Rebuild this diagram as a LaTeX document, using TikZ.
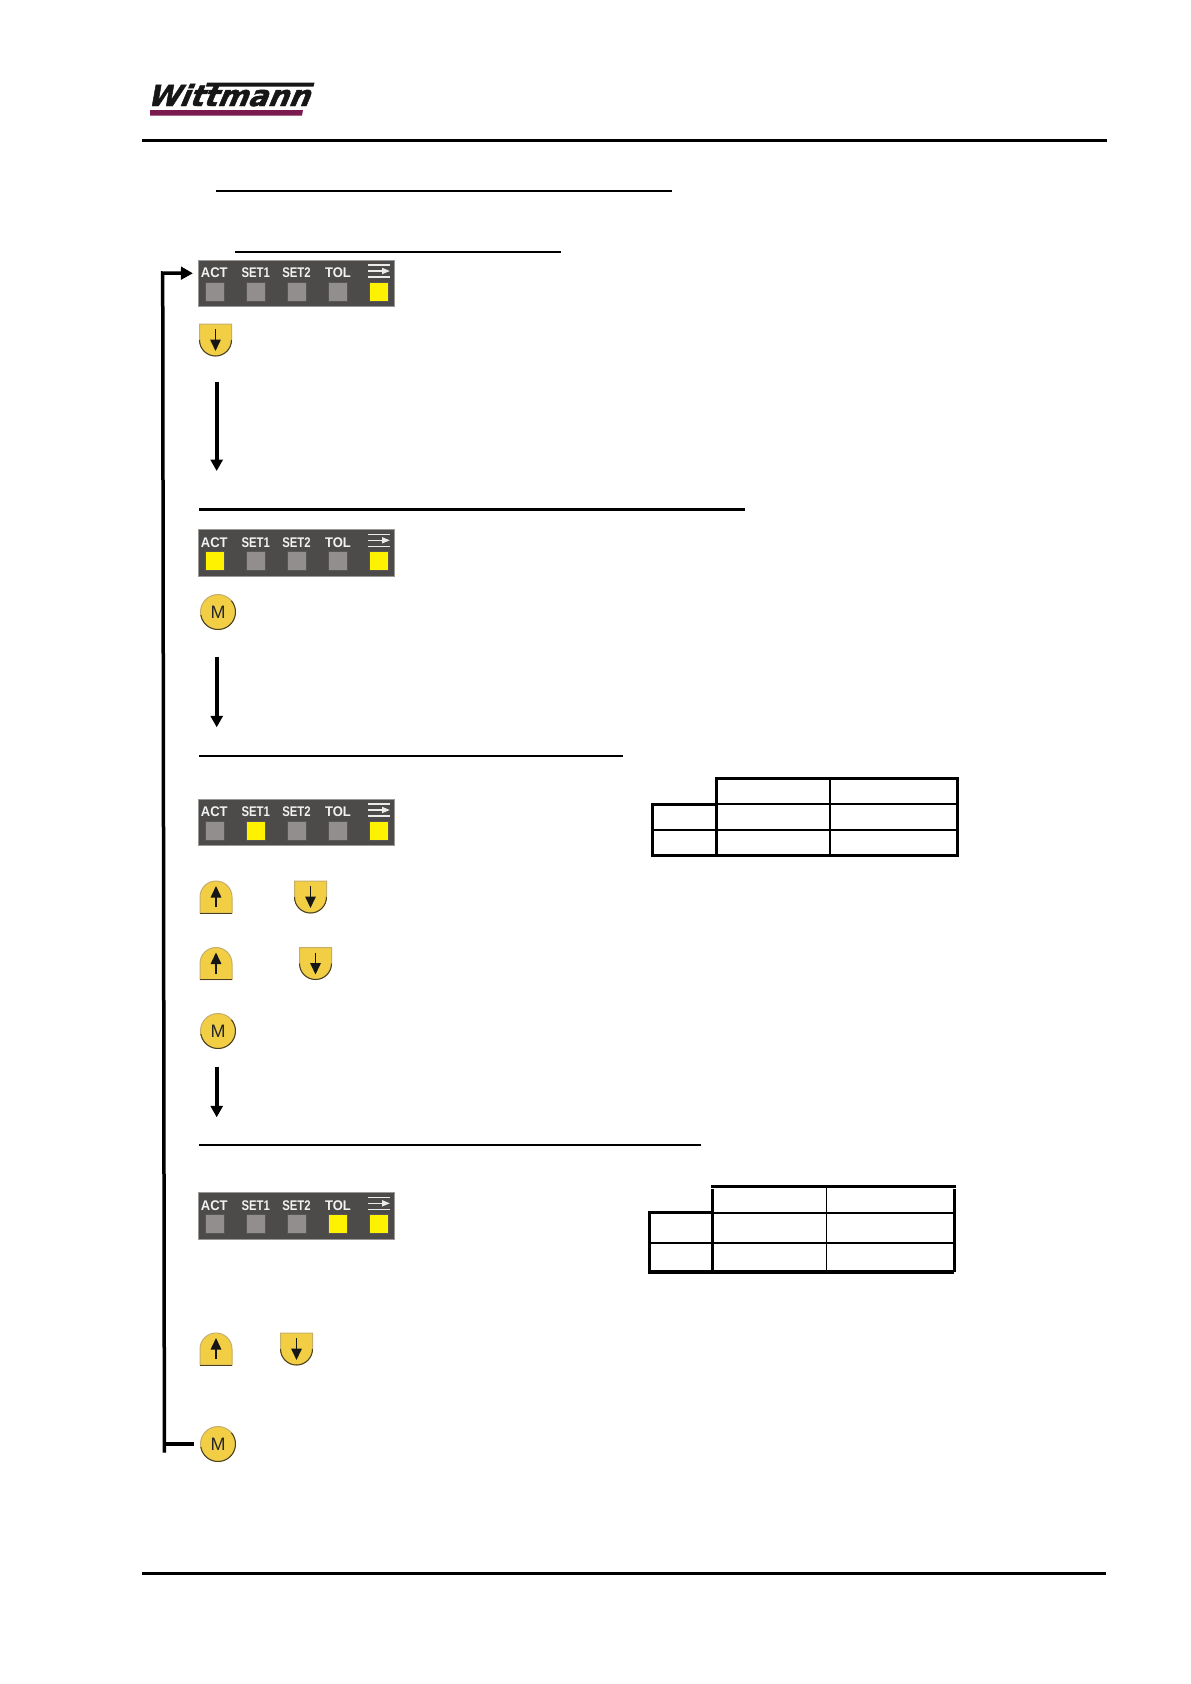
\documentclass[tikz,border=0pt]{standalone}
\usepackage{fontspec}
\setmainfont{Liberation Sans}
\newfontfamily\logofont[FakeBold=1.6]{DejaVu Sans Bold}
\usetikzlibrary{arrows.meta,calc}
\definecolor{panelgrey}{HTML}{4D4B4A}
\definecolor{paneledge}{HTML}{9A9897}
\definecolor{ledoff}{HTML}{918E8D}
\definecolor{ledon}{HTML}{FFF200}
\definecolor{btnyellow}{HTML}{F2CE45}
\definecolor{btnlight}{HTML}{C4AE6A}
\definecolor{btndark}{HTML}{4A4020}
\definecolor{logopurple}{HTML}{7A1A4E}
\definecolor{logoblack}{HTML}{161616}
\tikzset{
  rulethin/.style={line width=2pt,black},
  rulethick/.style={line width=3.2pt,black},
  panelbox/.style={fill=panelgrey,draw=paneledge,line width=0.7pt,inner sep=0pt,minimum width=196pt,minimum height=46.5pt},
  ledbox/.style={inner sep=0pt,minimum width=19pt,minimum height=19pt,draw=ledoff!60!black,line width=0.3pt},
  paneltext/.style={inner sep=0pt,text=white!95!black,font=\bfseries\fontsize{14}{14}\selectfont},
  flowarrow/.style={line width=4pt,black,-{Triangle[length=11.5pt,width=12pt]}},
  loopline/.style={line width=3.5pt,black},
  btnshape/.style={fill=btnyellow,draw=btnlight,line width=1pt},
  btnedge/.style={draw=btndark,line width=1pt},
  btnanchor/.style={inner sep=0pt,minimum width=32pt,minimum height=32pt},
  mbtn/.style={circle,fill=btnyellow,draw=btnlight,line width=1pt,inner sep=0pt,outer sep=0pt,minimum size=35pt,text=black!85,font=\fontsize{18}{18}\selectfont},
  innerarrow/.style={line width=1.6pt,logoblack,-{Triangle[length=11.5pt,width=10.5pt]}},
  tableouter/.style={line width=3.2pt,black},
  tableinner/.style={line width=2pt,black},
  panelmark/.style={white!92!black,line width=1.6pt},
}
\newcommand{\narrowset}[1]{\scalebox{0.81}[1]{#1}}
\newcommand{\narrowcap}[1]{\scalebox{0.93}[1]{#1}}
% name, top y, colours of the five lamps
\newcommand{\statuspanel}[7]{%
  \node[panelbox] (#1) at (296.8,#2+23.3) {};
  \node[paneltext] (#1-act) at (214.3,#2+13) {\narrowcap{ACT}};
  \node[paneltext] (#1-set1) at (255.7,#2+13) {\narrowset{SET1}};
  \node[paneltext] (#1-set2) at (296.5,#2+13) {\narrowset{SET2}};
  \node[paneltext] (#1-tol) at (338,#2+13) {\narrowcap{TOL}};
  \node[ledbox,fill=#3] (#1-la) at (214.3,#2+31.7) {};
  \node[ledbox,fill=#4] (#1-lb) at (255.7,#2+31.7) {};
  \node[ledbox,fill=#5] (#1-lc) at (296.5,#2+31.7) {};
  \node[ledbox,fill=#6] (#1-ld) at (338,#2+31.7) {};
  \node[ledbox,fill=#7] (#1-le) at (379,#2+31.7) {};
  \draw[panelmark] (368,#2+5) -- (390,#2+5);
  \draw[panelmark] (368,#2+17) -- (390,#2+17);
  \draw[panelmark,-{Triangle[length=8pt,width=6pt]}] (368,#2+11) -- (390,#2+11);
}
% name, left x, top y
\newcommand{\downbtn}[3]{%
  \node[btnanchor] (#1) at (#2+16,#3+16) {};
  \draw[btnshape] (#2,#3) -- (#2+32,#3) -- (#2+32,#3+16) arc[start angle=0,end angle=-180,radius=16pt] -- cycle;
  \draw[btnedge] (#2+32,#3+16) arc[start angle=0,end angle=-180,radius=16pt];
  \draw[innerarrow] (#2+16,#3+5) -- (#2+16,#3+27);
}
\newcommand{\upbtn}[3]{%
  \node[btnanchor] (#1) at (#2+16,#3+16) {};
  \draw[btnshape] (#2,#3+32) -- (#2,#3+16) arc[start angle=180,end angle=0,radius=16pt] -- (#2+32,#3+32) -- cycle;
  \draw[btnedge] (#2+32,#3+32) -- (#2,#3+32);
  \draw[innerarrow] (#2+16,#3+26) -- (#2+16,#3+5);
}
\newcommand{\modebtn}[3]{%
  \node[mbtn] (#1) at (#2,#3) {M};
  \draw[btnedge] (#1.40) arc[start angle=40,end angle=-170,radius=17.5pt];
}
\begin{document}
\begin{tikzpicture}[x=1pt,y=-1pt]
\path[use as bounding box,fill=white] (0,0) rectangle (1191,1684);

% logo
\fill[logopurple] (150,110) -- (303,110) -- (302,115.5) -- (150,115.5) -- cycle;
\fill[logoblack] (207,82.5) -- (314.5,82.5) -- (313.5,86.5) -- (206,86.5) -- cycle;
\node[inner sep=0pt,anchor=base west,text=logoblack,xslant=0.42,xscale=1.01,transform shape,font=\logofont\fontsize{29}{29}\selectfont] (logo) at (146,106) {Wittmann};

% header and footer rules
\coordinate (hl) at (142,140.5); \coordinate (hr) at (1107,140.5);
\draw[rulethick] (hl) -- (hr);
\coordinate (fl) at (142,1573.5); \coordinate (fr) at (1106,1573.5);
\draw[rulethick] (fl) -- (fr);

% underlines
\coordinate (u1a) at (216,191); \coordinate (u1b) at (672,191);
\draw[rulethin] (u1a) -- (u1b);
\coordinate (u2a) at (235,252); \coordinate (u2b) at (561,252);
\draw[rulethin] (u2a) -- (u2b);
\coordinate (u3a) at (199,509.5); \coordinate (u3b) at (745,509.5);
\draw[rulethick] (u3a) -- (u3b);
\coordinate (u4a) at (199,755.5); \coordinate (u4b) at (623,755.5);
\draw[rulethin] (u4a) -- (u4b);
\coordinate (u5a) at (199,1145); \coordinate (u5b) at (701,1145);
\draw[rulethin] (u5a) -- (u5b);

% panels
\statuspanel{pa}{260}{ledoff}{ledoff}{ledoff}{ledoff}{ledon}
\statuspanel{pb}{529.3}{ledon}{ledoff}{ledoff}{ledoff}{ledon}
\statuspanel{pc}{799}{ledoff}{ledon}{ledoff}{ledoff}{ledon}
\statuspanel{pd}{1192.3}{ledoff}{ledoff}{ledoff}{ledon}{ledon}

% buttons
\downbtn{d1}{199.5}{324}
\modebtn{m1}{218}{612}
\upbtn{u1}{200}{881}
\downbtn{d2}{294.5}{881}
\upbtn{u2}{200}{947.5}
\downbtn{d3}{299.5}{947.5}
\modebtn{m2}{218}{1031}
\upbtn{u3}{200}{1333}
\downbtn{d4}{280.5}{1333}
\modebtn{m3}{218}{1444}

% flow arrows
\coordinate (a1s) at (216.7,382); \coordinate (a1e) at (216.7,471);
\draw[flowarrow] (a1s) -- (a1e);
\coordinate (a2s) at (216.7,656.7); \coordinate (a2e) at (216.7,727.3);
\draw[flowarrow] (a2s) -- (a2e);
\coordinate (a3s) at (216.7,1066.7); \coordinate (a3e) at (216.7,1117.3);
\draw[flowarrow] (a3s) -- (a3e);

% return loop
\coordinate (lb) at (164.4,1452.7);
\coordinate (lj) at (164.4,1444);
\coordinate (lt) at (162.7,273);
\draw[loopline] (lb) -- (lt) -- ([yshift=10pt,xshift=-5.5pt]pa.west) [-{Triangle[length=12pt,width=12.5pt]}];
\draw[loopline,shorten <=7pt] (m3.west) -- (lj);

% table 1
\draw[tableinner] (652.7,804.3) -- (957.3,804.3);
\draw[tableinner] (652.7,829.7) -- (957.3,829.7);
\draw[tableinner] (830,778.3) -- (830,855.3);
\draw[tableouter] (716.7,855.3) -- (716.7,778.3) -- (957.3,778.3) -- (957.3,855.3) -- (652.7,855.3) -- (652.7,804.3) -- (716.7,804.3);

% table 2
\draw[line width=1.5pt] (649.3,1243) -- (954.3,1243);
\draw[line width=1.5pt] (826.7,1188) -- (826.7,1272);
\draw[tableinner] (649.3,1212.7) -- (954.3,1212.7);
\draw[tableouter] (711,1186.7) -- (956,1186.7);
\draw[tableouter] (712.3,1189) -- (712.3,1272);
\draw[tableouter] (954.3,1189) -- (954.3,1272);
\draw[tableouter] (954.3,1272) -- (649.3,1272) -- (649.3,1212.7) -- (712.3,1212.7);
\end{tikzpicture}
\end{document}
